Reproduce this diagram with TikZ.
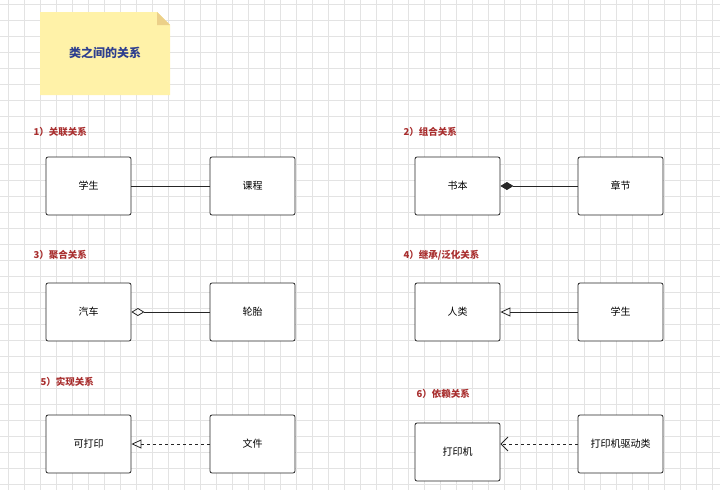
\documentclass[tikz,border=0pt]{standalone}
\usepackage{fontspec}
\setmainfont{Noto Sans CJK SC}
\usetikzlibrary{arrows.meta}
\definecolor{gridc}{HTML}{E3E3E3}
\definecolor{notec}{HTML}{FFF2A8}
\definecolor{titlec}{HTML}{2E3F8F}
\definecolor{labc}{HTML}{A82E2E}
\tikzset{
  cls/.style={draw=black!85, rounded corners=2pt, line width=0.8pt, minimum width=85pt, minimum height=58pt, fill=white, font=\fontsize{10}{12}\selectfont},
  lab/.style={anchor=west, text=labc, font=\bfseries\fontsize{9.5}{11}\selectfont},
  rel/.style={line width=0.8pt, draw=black!85}
}
\begin{document}
\begin{tikzpicture}[x=1pt,y=-1pt]
  \useasboundingbox (0,0) rectangle (720,490);
  % grid
  \foreach \gx in {8,24,...,720}
    \draw[gridc, line width=0.4pt] (\gx,0) -- (\gx,490);
  \foreach \gy in {4,20,...,490}
    \draw[gridc, line width=0.4pt] (0,\gy) -- (720,\gy);

  % note
  \fill[notec] (40,12) -- (157,12) -- (170,25) -- (170,95) -- (40,95) -- cycle;
  \fill[notec!70!brown] (157,12) -- (170,25) -- (157,25) -- cycle;
  \node[text=titlec, font=\bfseries\fontsize{12}{14}\selectfont] (title) at (105,53) {类之间的关系};

  % 1) association
  \node[lab] (l1) at (30,132) {1）关联关系};
  \node[cls] (stu) at (88.5,186) {学生};
  \node[cls] (course) at (252.5,186) {课程};
  \draw[rel] (stu) -- (course);

  % 2) composition
  \node[lab] (l2) at (400,132) {2）组合关系};
  \node[cls] (book) at (457.5,186) {书本};
  \node[cls] (chap) at (620.5,186) {章节};
  \draw[rel, -{Diamond[length=13pt,width=8pt]}] (chap) -- (book);

  % 3) aggregation
  \node[lab] (l3) at (30,255) {3）聚合关系};
  \node[cls] (car) at (88.5,312) {汽车};
  \node[cls] (tyre) at (252.5,312) {轮胎};
  \draw[rel, -{Diamond[open,length=13pt,width=8pt]}] (tyre) -- (car);

  % 4) inheritance
  \node[lab] (l4) at (400,255) {4）继承/泛化关系};
  \node[cls] (human) at (457.5,312) {人类};
  \node[cls] (stu2) at (620.5,312) {学生};
  \draw[rel, -{Triangle[open,length=10pt,width=9pt]}] (stu2) -- (human);

  % 5) realization
  \node[lab] (l5) at (37,382) {5）实现关系};
  \node[cls] (print) at (88.5,444) {可打印};
  \node[cls] (file) at (252.5,444) {文件};
  \draw[rel, dashed, -{Triangle[open,length=10pt,width=9pt]}] (file) -- (print);

  % 6) dependency
  \node[lab] (l6) at (413,394) {6）依赖关系};
  \node[cls] (printer) at (457.5,452) {打印机};
  \node[cls] (driver) at (620.5,444) {打印机驱动类};
  \draw[rel, dashed, -{Straight Barb[length=7pt,width=14pt]}] (driver) -- (driver -| printer.east);
\end{tikzpicture}
\end{document}
